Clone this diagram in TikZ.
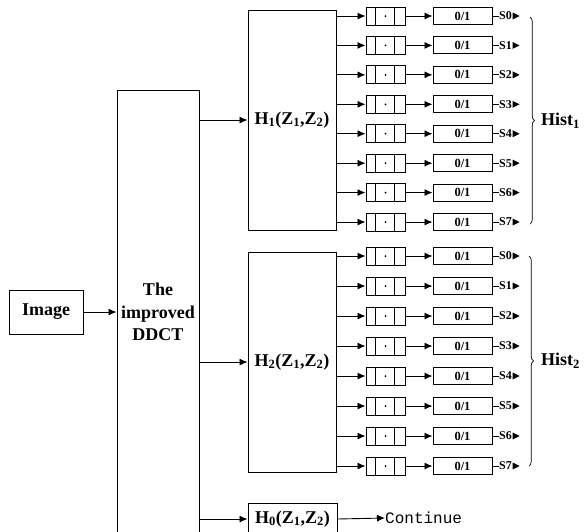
\documentclass[tikz,border=0pt]{standalone}
\usepackage{fontspec}
\setmainfont{Liberation Serif}
\newfontfamily\contfont{Liberation Mono}
\usetikzlibrary{arrows.meta,decorations.pathreplacing}
\begin{document}
\begin{tikzpicture}[x=1pt,y=-1pt,
  box/.style={draw, line width=1pt, inner sep=0pt},
  arr/.style={-{Latex[length=8pt,width=7pt]}, line width=0.9pt},
  ln/.style={line width=0.9pt},
  big/.style={font=\fontsize{18}{22.5}\selectfont\bfseries},
  smalltxt/.style={font=\fontsize{12.5}{14}\selectfont\bfseries},
  slab/.style={font=\fontsize{12}{13}\selectfont\bfseries, inner sep=0pt},
  bracestyle/.style={decorate, decoration={brace, amplitude=4.5pt}, line width=0.7pt}]
\clip (0,0) rectangle (587,531);
\node[box, big, minimum width=74pt, minimum height=44pt] (img) at (46,312) {Image};
\node[box, minimum width=82pt, minimum height=460pt] (ddct) at (158,320) {};
\node[big, align=center, inner sep=0pt] (ddcttxt) at (158,312) {The\\improved\\DDCT};
\node[box, big, minimum width=88pt, minimum height=220pt] (h1) at (292,120) {H\textsubscript{1}(Z\textsubscript{1},Z\textsubscript{2})};
\node[box, big, minimum width=88pt, minimum height=220pt] (h2) at (292,362) {H\textsubscript{2}(Z\textsubscript{1},Z\textsubscript{2})};
\node[box, big, minimum width=89pt, minimum height=32pt] (h0) at (292.5,519) {H\textsubscript{0}(Z\textsubscript{1},Z\textsubscript{2})};
\node[font=\contfont\fontsize{16}{18}\selectfont, anchor=west, inner sep=0pt] (cont) at (385,518) {Continue};
\draw[arr] (img.east) -- (img.east -| ddct.west);
\draw[arr] (ddct.east |- h1.west) -- (h1.west);
\draw[arr] (ddct.east |- h2.west) -- (h2.west);
\draw[arr] (ddct.east |- h0.west) -- (h0.west);
\draw[arr] (h0.east) -- (cont.west);
\foreach \g/\ystart/\dy/\h in {1/16/29.43/h1, 2/256/30/h2} {
  \foreach \i in {0,...,7} {
    \pgfmathsetmacro\ya{\ystart+\dy*\i}
    \node[box, minimum width=39pt, minimum height=18pt] (a\g\i) at (385.5,\ya) {};
    \draw[ln] ([xshift=-10pt]a\g\i.north) -- ([xshift=-10pt]a\g\i.south);
    \draw[ln] ([xshift=9pt]a\g\i.north) -- ([xshift=9pt]a\g\i.south);
    \fill (a\g\i.center) circle (1pt);
    \node[box, smalltxt, minimum width=59pt, minimum height=17pt] (b\g\i) at (462.5,\ya) {0/1};
    \node[slab, anchor=west] (s\g\i) at (499,\ya) {S\i};
    \draw[arr] (\h.east |- a\g\i.west) -- (a\g\i.west);
    \draw[arr] (a\g\i.east) -- (b\g\i.west);
    \draw[ln] (b\g\i.east) -- (s\g\i.west);
    \fill ([xshift=0.5pt]s\g\i.east) ++(0,-3.5) -- ++(7,3.5) -- ++(-7,3.5) -- cycle;
  }
}
\draw[bracestyle] (530,17) -- (530,224);
\node[big, anchor=west, inner sep=0pt] (hist1) at (541,121) {Hist\textsubscript{1}};
\draw[bracestyle] (529,256) -- (529,466);
\node[big, anchor=west, inner sep=0pt] (hist2) at (541,361) {Hist\textsubscript{2}};
\end{tikzpicture}
\end{document}
